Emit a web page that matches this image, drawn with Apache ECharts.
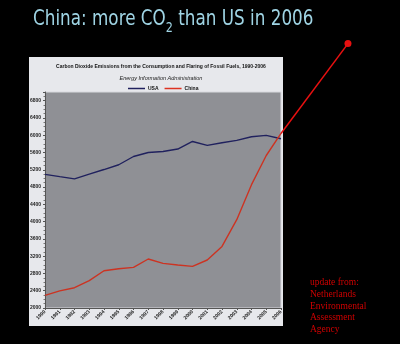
<!DOCTYPE html>
<html>
<head>
<meta charset="utf-8">
<script src="https://cdn.jsdelivr.net/npm/echarts@6/dist/echarts.min.js"></script>
<style>
html,body{margin:0;padding:0;background:#000;}
#c{width:400px;height:344px;}
</style>
</head>
<body>
<div id="c"></div>
<script>
var years = [1990,1991,1992,1993,1994,1995,1996,1997,1998,1999,2000,2001,2002,2003,2004,2005,2006];
var usa = [5094,5040,4990,5100,5205,5316,5507,5600,5623,5680,5855,5764,5826,5880,5965,5995,5918];
var china = [2292,2395,2470,2632,2863,2910,2940,3134,3033,2995,2963,3111,3426,4044,4855,5530,6040];
var updateLine = [[2006,6040],[2010.54,8120]];
var yTicks = [2000,2400,2800,3200,3600,4000,4400,4800,5200,5600,6000,6400,6800];
var sourceLines = ['update from:','Netherlands','Environmental','Assessment','Agency'];

var chart = echarts.init(document.getElementById('c'), null, {renderer:'canvas'});
var titleFont = '"DejaVu Sans", sans-serif';
var option = {
  backgroundColor: '#000',
  animation: false,
  graphic: [
    {type:'rect', shape:{x:29,y:57,width:254,height:269}, style:{fill:'#e7e8ec'}, z:-10},
    {type:'text', x:310, y:277, style:{text: sourceLines.join('\n'), fill:'#d00000', font:'9.5px "Liberation Serif"', lineHeight:11.6}},
    {type:'text', x:33, y:5, scaleX:0.8, scaleY:1, originX:0, originY:0,
     style:{
       text: '{a|China: more CO}{s|2}{a| than US in 2006}',
       rich: {
         a: {fontFamily:titleFont, fontSize:21, fontWeight:'normal', fill:'#9fd4e4', lineHeight:30},
         s: {fontFamily:titleFont, fontSize:14, fontWeight:'normal', fill:'#9fd4e4', lineHeight:14, verticalAlign:'bottom'}
       }
     }}
  ],
  title: [
    {
      text: 'Carbon Dioxide Emissions from the Consumption and Flaring of Fossil Fuels, 1990-2006',
      left: 156, top: 59, textAlign:'center',
      textStyle: {fontFamily:'Liberation Sans', fontSize:5, fontWeight:'bold', color:'#111'}
    },
    {
      text: 'Energy Information Administration',
      left: 156, top: 70, textAlign:'center',
      textStyle: {fontFamily:'Liberation Sans', fontSize:5.5, fontStyle:'italic', fontWeight:'normal', color:'#222'}
    }
  ],
  legend: {
    data: ['USA','China'],
    left: 123, top: 81,
    icon: 'rect', itemWidth: 17, itemHeight: 1.5, itemGap: 6,
    textStyle: {fontFamily:'Liberation Sans', fontSize:5, fontWeight:'bold', color:'#111', padding:[0,0,0,-2]}
  },
  grid: [
    {left: 45, right: 119, top: 92, bottom: 36,
     show: true, backgroundColor: '#8f9095', borderColor: '#d8d9de', borderWidth: 1},
    {left: 45, right: 45.25, top: 27.2, bottom: 36, show: false}
  ],
  xAxis: [
    {
      type: 'value', min: 1990, max: 2006, interval: 1, gridIndex: 0,
      axisLine: {show: true, lineStyle:{color:'#555', width:1}},
      axisTick: {show: true, length: 2, lineStyle:{color:'#555'}},
      splitLine: {show:false},
      axisLabel: {rotate: 45, fontFamily:'Liberation Sans', fontSize:5, fontWeight:'bold', color:'#222', margin:3,
        formatter: function(v){ return years.indexOf(v) >= 0 ? String(v) : ''; }}
    },
    {type:'value', min:1990, max:2011, gridIndex:1, show:false}
  ],
  yAxis: [
    {
      type: 'value', min: 2000, max: 7000, interval: 400, gridIndex: 0,
      axisLine: {show: true, lineStyle:{color:'#555', width:1}},
      axisTick: {show: true, length: 2, lineStyle:{color:'#555'}},
      minorTick: {show: true, splitNumber: 4, length: 1.5, lineStyle:{color:'#777'}},
      splitLine: {show:false},
      axisLabel: {showMaxLabel:false, fontFamily:'Liberation Sans', fontSize:5, fontWeight:'bold', color:'#222', margin:4,
        formatter: function(v){ return yTicks.indexOf(v) >= 0 ? String(v) : ''; }}
    },
    {type:'value', min:2000, max:8500, gridIndex:1, show:false}
  ],
  series: [
    {name:'USA', type:'line', data: years.map(function(y,i){return [y, usa[i]];}), showSymbol:false, symbol:'none',
     lineStyle:{color:'#20215e', width:1.4}, itemStyle:{color:'#20215e'}},
    {name:'China', type:'line', data: years.map(function(y,i){return [y, china[i]];}), showSymbol:false, symbol:'none',
     lineStyle:{color:'#cc3322', width:1.4}, itemStyle:{color:'#dd3322'}},
    {name:'update', type:'line', xAxisIndex:1, yAxisIndex:1, z:10,
     data: [{value: updateLine[0], symbol:'none'}, {value: updateLine[1], symbol:'circle', symbolSize:7}],
     showSymbol:true, lineStyle:{color:'#e81010', width:1.5}, itemStyle:{color:'#e81010'}}
  ]
};
chart.setOption(option);
</script>
</body>
</html>
